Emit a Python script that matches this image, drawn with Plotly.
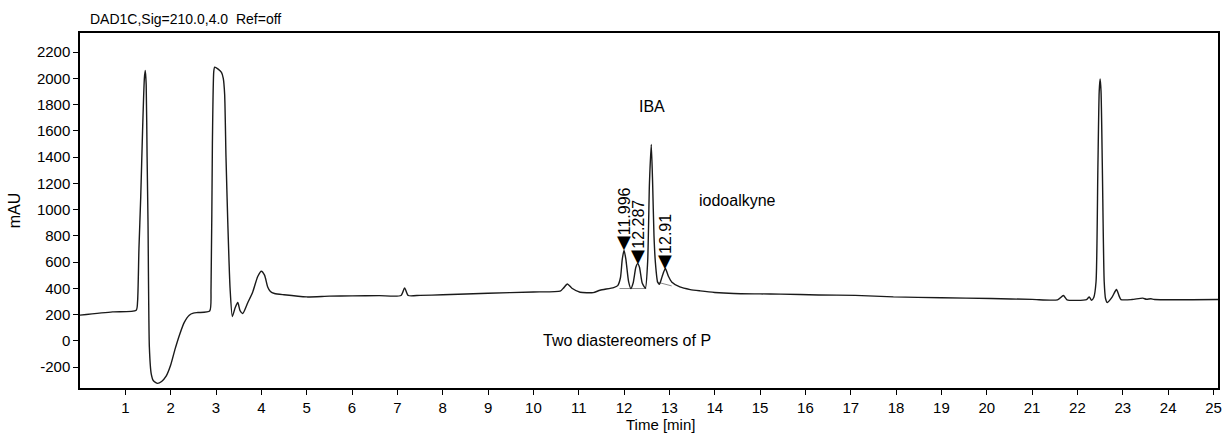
import plotly.graph_objects as go

# Chromatogram trace
time_min = [0.0, 0.72, 1.24, 1.27, 1.30, 1.34, 1.38, 1.42, 1.44, 1.46, 1.48, 1.50, 1.53, 1.57, 1.62, 1.71, 1.80,
            1.90, 2.0, 2.1, 2.2, 2.3, 2.41, 2.5, 2.6, 2.86, 2.89, 2.92, 2.95, 2.97, 3.04, 3.12, 3.16, 3.19, 3.22,
            3.26, 3.31, 3.36, 3.42, 3.48, 3.53, 3.59, 3.7, 3.81, 3.92, 4.0, 4.07, 4.14, 4.2, 4.29, 4.5, 5.0, 5.5,
            6.0, 6.6, 7.08, 7.16, 7.24, 7.5, 8.0, 9.0, 10.0, 10.59, 10.66, 10.75, 10.85, 11.03, 11.32, 11.47,
            11.77, 11.86, 11.92, 11.96, 12.0, 12.04, 12.1, 12.15, 12.2, 12.26, 12.30, 12.34, 12.40, 12.47, 12.52,
            12.56, 12.60, 12.63, 12.66, 12.69, 12.74, 12.78, 12.84, 12.91, 12.98, 13.05, 13.23, 13.46, 13.68,
            14.0, 14.42, 15.0, 15.45, 16.29, 17.1, 17.94, 19.0, 20.09, 21.0, 21.56, 21.69, 21.77, 22.2, 22.26,
            22.31, 22.36, 22.41, 22.45, 22.48, 22.50, 22.52, 22.55, 22.59, 22.62, 22.66, 22.76, 22.86, 22.92,
            22.96, 23.2, 23.44, 23.52, 23.62, 23.7, 25.1]
signal_mau = [195, 220, 233, 300, 700, 1100, 1600, 2000, 2060, 1950, 1400, 900, -50, -250, -305, -325, -310,
              -270, -185, -60, 50, 140, 195, 210, 215, 226, 400, 1500, 2050, 2085, 2072, 2045, 2000, 1880, 1400,
              900, 400, 185, 250, 291, 230, 208, 290, 372, 490, 530, 500, 410, 375, 360, 350, 334, 340,
              342, 344, 345, 403, 345, 346, 350, 362, 372, 378, 400, 433, 400, 370, 367, 385,
              405, 420, 480, 620, 690, 620, 450, 398, 440, 560, 588, 560, 440, 400, 600,
              1200, 1495, 1200, 800, 600, 448, 431, 490, 550, 490, 448, 410, 390, 380,
              368, 360, 357, 355, 349, 346, 334, 328, 322, 315, 312, 345, 312, 314, 334,
              309, 330, 450, 1300, 1900, 1994, 1900, 1300, 450, 320, 291, 330, 390, 340,
              314, 314, 325, 316, 320, 314, 314]

# Integration baselines (drawn thin and grey)
base1_t = [11.90, 12.49]
base1_v = [398, 398]
base2_t = [12.72, 13.05]
base2_v = [448, 418]

# Labelled peaks
peak_times = [12.0, 12.30, 12.91]
peak_heights = [690, 588, 550]
peak_labels = ["11.996", "12.287", "12.91"]

# Free text notes
note_texts = ["IBA", "iodoalkyne", "Two diastereomers of P"]
note_x = [12.62, 14.50, 12.07]
note_y = [1786, 1072, 0]

x_ticks = list(range(1, 26))
y_ticks = list(range(-200, 2201, 200))
y_tick_labels = [str(v) for v in y_ticks]

FONT = "Liberation Sans, Arial, sans-serif"

fig = go.Figure()
fig.add_trace(go.Scatter(x=base1_t, y=base1_v, mode="lines",
                         line=dict(color="#8a8a8a", width=1), hoverinfo="skip", showlegend=False))
fig.add_trace(go.Scatter(x=base2_t, y=base2_v, mode="lines",
                         line=dict(color="#8a8a8a", width=1), hoverinfo="skip", showlegend=False))
fig.add_trace(go.Scatter(x=time_min, y=signal_mau, mode="lines",
                         line=dict(color="#1a1a1a", width=1.4, shape="spline", smoothing=0.6),
                         showlegend=False))

annotations = []
for t, h, lab in zip(peak_times, peak_heights, peak_labels):
    annotations.append(dict(x=t, y=h, xref="x", yref="y", text="▼", showarrow=False,
                            yanchor="bottom", xanchor="center", yshift=-4,
                            font=dict(family="DejaVu Sans", size=18, color="black")))
    annotations.append(dict(x=t, y=h, xref="x", yref="y", text=lab, showarrow=False,
                            textangle=-90, yanchor="bottom", xanchor="center", yshift=13,
                            font=dict(family=FONT, size=16, color="black")))
for txt, x, y in zip(note_texts, note_x, note_y):
    annotations.append(dict(x=x, y=y, xref="x", yref="y", text=txt, showarrow=False,
                            xanchor="center", yanchor="middle",
                            font=dict(family=FONT, size=16, color="black")))
annotations.append(dict(x=0.007, y=1.0, xref="paper", yref="paper", text="DAD1C,Sig=210.0,4.0  Ref=off",
                        showarrow=False, xanchor="left", yanchor="bottom", yshift=4,
                        font=dict(family=FONT, size=14, color="black")))
annotations.append(dict(x=0.51, y=0, xref="paper", yref="paper", text="Time [min]",
                        showarrow=False, xanchor="center", yanchor="top", yshift=-26,
                        font=dict(family=FONT, size=15, color="black")))

fig.update_layout(
    width=1225, height=433,
    margin=dict(l=80, r=7, t=33, b=45),
    paper_bgcolor="white", plot_bgcolor="white",
    font=dict(family=FONT, size=15, color="black"),
    annotations=annotations,
    xaxis=dict(range=[0, 25.1], tickvals=x_ticks, ticks="outside", ticklen=5, tickwidth=1.3,
               tickcolor="black", showline=True, linecolor="black", linewidth=1.5, mirror=True,
               showgrid=False, zeroline=False, tickfont=dict(size=15), automargin=False),
    yaxis=dict(range=[-360, 2345], tickvals=y_ticks, ticktext=y_tick_labels, ticks="outside",
               ticklen=5, tickwidth=1.3,
               tickcolor="black", showline=True, linecolor="black", linewidth=1.5, mirror=True,
               showgrid=False, zeroline=False, tickfont=dict(size=15), automargin=False,
               title=dict(text="mAU", standoff=12, font=dict(size=16))),
)

# remove the page's default body margin so the figure fills the window exactly
fig.write_html("out.html", config={"displayModeBar": False},
               post_script="document.body.style.margin='0';")
